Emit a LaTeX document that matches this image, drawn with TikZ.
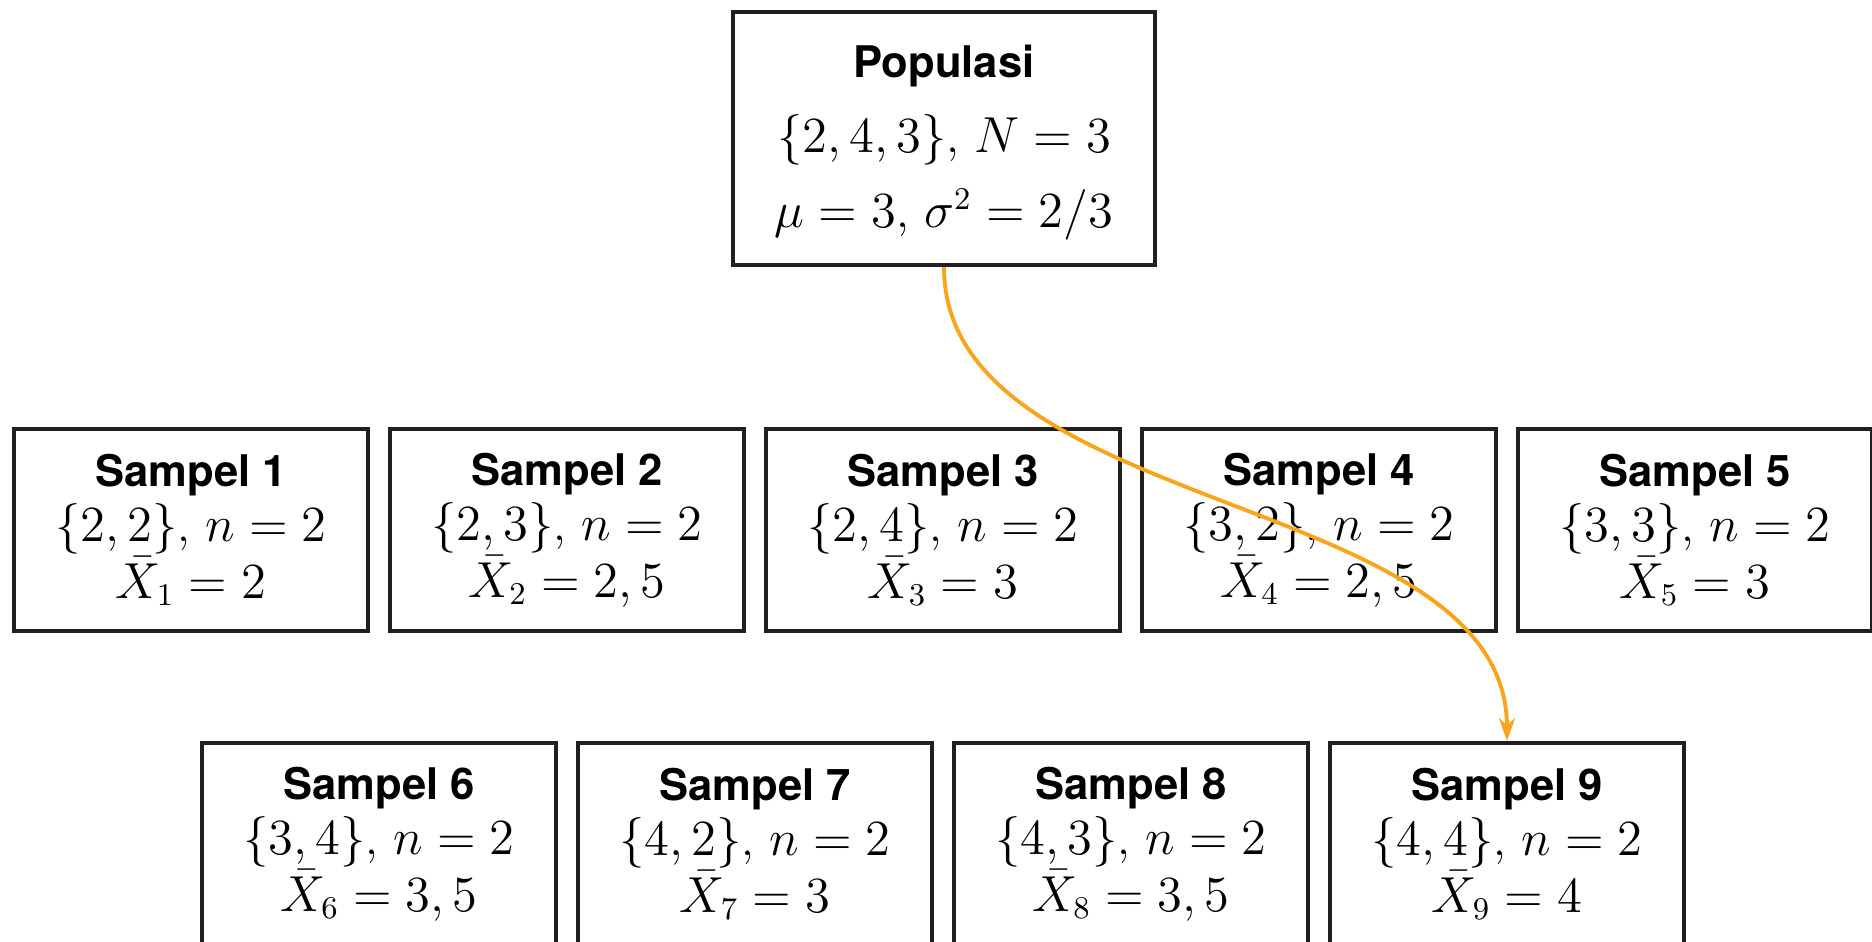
\documentclass[tikz,border=0pt]{standalone}
\usepackage{fontspec}
\setsansfont{TeX Gyre Heros}
\usepackage{xcolor}
\usetikzlibrary{arrows.meta, positioning}

\definecolor{boxLine}{HTML}{231F20}
\definecolor{pathOrange}{HTML}{F9A51B}

\newcommand{\boxhead}[1]{{\fontsize{12.4}{15.6}\selectfont\sffamily\bfseries #1}}

\begin{document}
\begin{tikzpicture}[
    % ── boxes ──
    popBox/.style    = {draw=boxLine, fill=white, line width=1.2pt,
                        minimum width=4.22cm, minimum height=2.53cm,
                        align=center, font=\fontsize{13.4}{15.6}\selectfont},
    sampleBox/.style = {draw=boxLine, fill=white, line width=1.2pt,
                        minimum width=3.54cm, minimum height=2.02cm,
                        align=center, font=\fontsize{13.3}{15.6}\selectfont},
    % ── arrows ──
    arr/.style       = {-{Stealth[length=6.5pt, width=4.6pt]},
                        line width=1.1pt, pathOrange},
]

\def\rowA{-5.30}  % centreline of first sample row
\def\rowB{-8.44}  % centreline of second sample row

% frame (the picture is cut at the right and bottom edges)
\clip (0,0) rectangle (18.72,-9.42);
\fill[white] (0,0) rectangle (18.72,-9.42);

% =====================================================================
% Population
% =====================================================================
\node[popBox] (pop) at (9.44,-1.385)
  {\rule{0pt}{11.5pt}\boxhead{Populasi}\\[5.8pt]
   $\{2,4,3\}$, $N=3$\\[5.8pt]
   $\mu=3$, $\sigma^2=2/3$};

% =====================================================================
% Samples 1 -- 5
% =====================================================================
\foreach \i/\a/\b/\m [count=\k from 0] in
    {1/2/2/2, 2/2/3/{2,5}, 3/2/4/3, 4/3/2/{2,5}, 5/3/3/3}{
  \node[sampleBox] (s\i) at (1.91+3.76*\k,\rowA)
    {\boxhead{Sampel \i}\\ $\{\a,\b\}$, $n=2$\\[0.6pt] $\bar{X}_{\i}=\m$};
}

% =====================================================================
% Samples 6 -- 9
% =====================================================================
\foreach \i/\a/\b/\m [count=\k from 0] in
    {6/3/4/{3,5}, 7/4/2/3, 8/4/3/{3,5}, 9/4/4/4}{
  \node[sampleBox] (s\i) at (3.79+3.76*\k,\rowB)
    {\boxhead{Sampel \i}\\ $\{\a,\b\}$, $n=2$\\[0.6pt] $\bar{X}_{\i}=\m$};
}

% population -> sample 9
\draw[arr] (pop.south) .. controls +(0,-2.5) and +(0,2.5) .. (s9.north);

\end{tikzpicture}
\end{document}
